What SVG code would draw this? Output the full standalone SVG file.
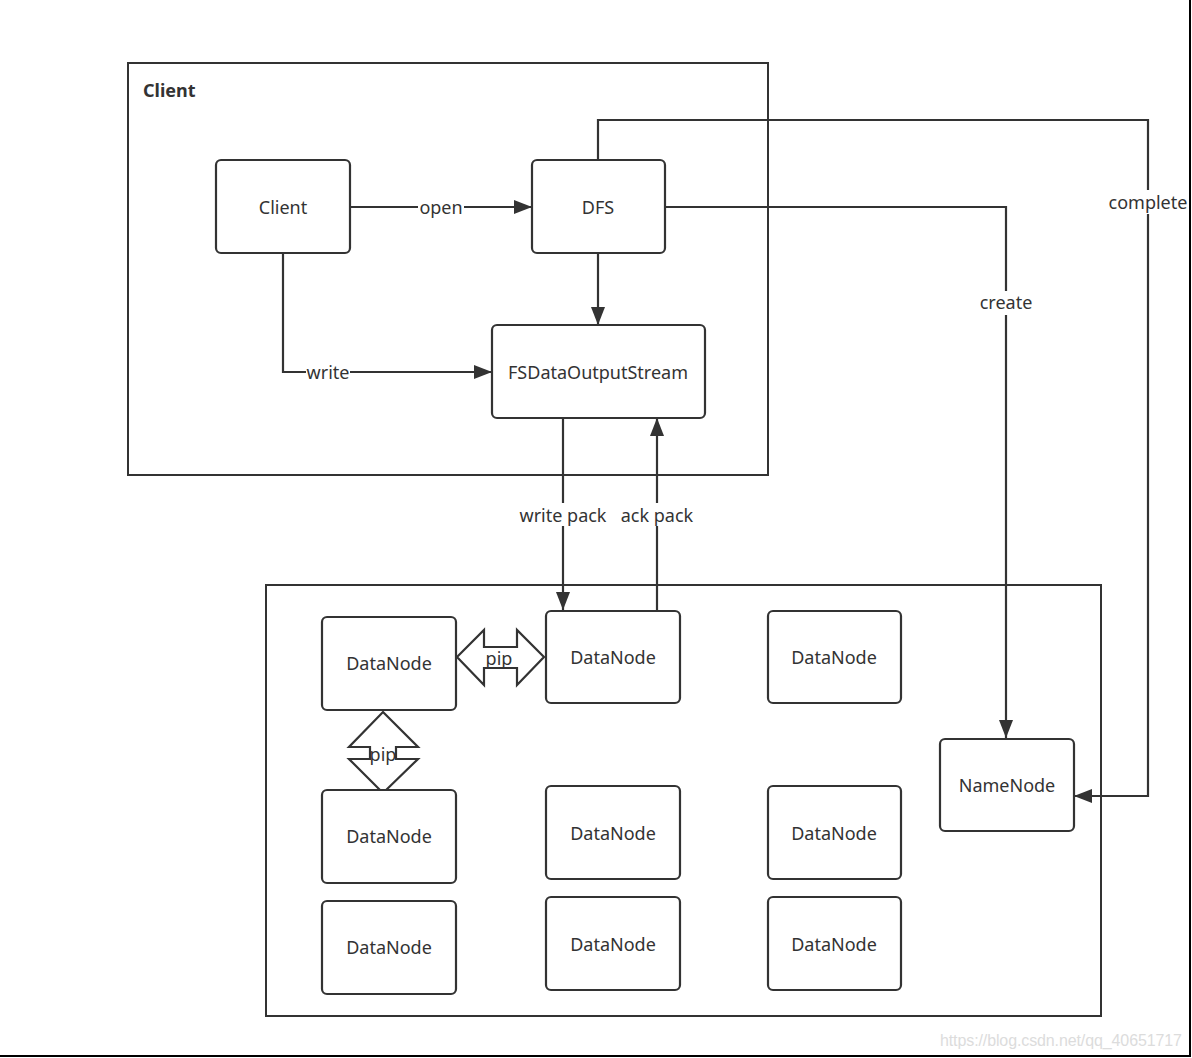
<svg xmlns="http://www.w3.org/2000/svg" width="1192" height="1058" viewBox="0 0 1192 1058">
<defs>
<marker id="ah" viewBox="0 0 18 14" refX="18" refY="7" markerWidth="18" markerHeight="14" markerUnits="userSpaceOnUse" orient="auto">
<path d="M0,0 L18,7 L0,14 Z" fill="#333"/>
</marker>
<style>
.frame{fill:none;stroke:#333;stroke-width:2}
.node{fill:#fff;stroke:#333;stroke-width:2.2}
.t{font-family:"Noto Sans","DejaVu Sans",sans-serif;font-size:18px;fill:#333;text-anchor:middle;dominant-baseline:central}
.title{font-family:"Noto Sans","DejaVu Sans",sans-serif;font-size:18px;font-weight:bold;fill:#333}
.c{fill:none;stroke:#333;stroke-width:2.2}
.bg{fill:#fff}
.dbl{fill:#fff;stroke:#333;stroke-width:2.2}
</style>
</defs>
<rect width="1192" height="1058" fill="#fff"/>
<line x1="1190" y1="0" x2="1190" y2="1057" stroke="#000" stroke-width="2"/>
<line x1="0" y1="1056" x2="1191" y2="1056" stroke="#000" stroke-width="2"/>

<g id="client-frame">
<rect class="frame" x="128" y="63" width="640" height="412"/>
<text class="title" x="143" y="97">Client</text>
</g>
<g id="datanode-frame">
<rect class="frame" x="266" y="585" width="835" height="431"/>
</g>

<g id="connectors">
<path class="c" d="M350,207 H532" marker-end="url(#ah)"/>
<rect class="bg" x="418" y="196" width="46" height="22"/>
<text class="t" x="441" y="207">open</text>

<path class="c" d="M283,253 V372 H492" marker-end="url(#ah)"/>
<rect class="bg" x="306" y="361" width="44" height="22"/>
<text class="t" x="328" y="372">write</text>

<path class="c" d="M598,253 V325" marker-end="url(#ah)"/>

<path class="c" d="M665,207 H1006 V738" marker-end="url(#ah)"/>
<rect class="bg" x="978" y="291" width="56" height="24"/>
<text class="t" x="1006" y="302">create</text>

<path class="c" d="M598,160 V120 H1148 V796 H1074" marker-end="url(#ah)"/>
<rect class="bg" x="1108" y="190" width="80" height="24"/>
<text class="t" x="1148" y="202">complete</text>

<path class="c" d="M563,418 V610" marker-end="url(#ah)"/>
<path class="c" d="M657,610 V418" marker-end="url(#ah)"/>
<rect class="bg" x="519" y="503" width="88" height="23"/>
<text class="t" x="563" y="515">write pack</text>
<rect class="bg" x="620" y="503" width="74" height="23"/>
<text class="t" x="657" y="515">ack pack</text>

<polygon class="dbl" points="457,657 484,630 484,647 517,647 517,630 544,657 517,685 517,668 484,668 484,685"/>
<text class="t" x="499" y="658">pip</text>
<polygon class="dbl" points="383,712 418,747 396,747 396,759 418,759 383,793 349,759 370,759 370,747 349,747"/>
<text class="t" x="383" y="754">pip</text>
</g>

<g id="node-client"><rect class="node" x="216" y="160" width="134" height="93" rx="5"/><text class="t" x="283" y="207">Client</text></g>
<g id="node-dfs"><rect class="node" x="532" y="160" width="133" height="93" rx="5"/><text class="t" x="598" y="207">DFS</text></g>
<g id="node-fsdos"><rect class="node" x="492" y="325" width="213" height="93" rx="5"/><text class="t" x="598" y="372">FSDataOutputStream</text></g>

<g id="dn-1"><rect class="node" x="322" y="617" width="134" height="93" rx="5"/><text class="t" x="389" y="663">DataNode</text></g>
<g id="dn-2"><rect class="node" x="546" y="611" width="134" height="92" rx="5"/><text class="t" x="613" y="657">DataNode</text></g>
<g id="dn-3"><rect class="node" x="768" y="611" width="133" height="92" rx="5"/><text class="t" x="834" y="657">DataNode</text></g>
<g id="dn-4"><rect class="node" x="322" y="790" width="134" height="93" rx="5"/><text class="t" x="389" y="836">DataNode</text></g>
<g id="dn-5"><rect class="node" x="546" y="786" width="134" height="93" rx="5"/><text class="t" x="613" y="833">DataNode</text></g>
<g id="dn-6"><rect class="node" x="768" y="786" width="133" height="93" rx="5"/><text class="t" x="834" y="833">DataNode</text></g>
<g id="dn-7"><rect class="node" x="322" y="901" width="134" height="93" rx="5"/><text class="t" x="389" y="947">DataNode</text></g>
<g id="dn-8"><rect class="node" x="546" y="897" width="134" height="93" rx="5"/><text class="t" x="613" y="944">DataNode</text></g>
<g id="dn-9"><rect class="node" x="768" y="897" width="133" height="93" rx="5"/><text class="t" x="834" y="944">DataNode</text></g>
<g id="namenode"><rect class="node" x="940" y="739" width="134" height="92" rx="5"/><text class="t" x="1007" y="785">NameNode</text></g>

<text x="940" y="1046" font-family="Liberation Sans, Arial, sans-serif" font-size="16" fill="#dcdcdc" textLength="242">https://blog.csdn.net/qq_40651717</text>
</svg>
